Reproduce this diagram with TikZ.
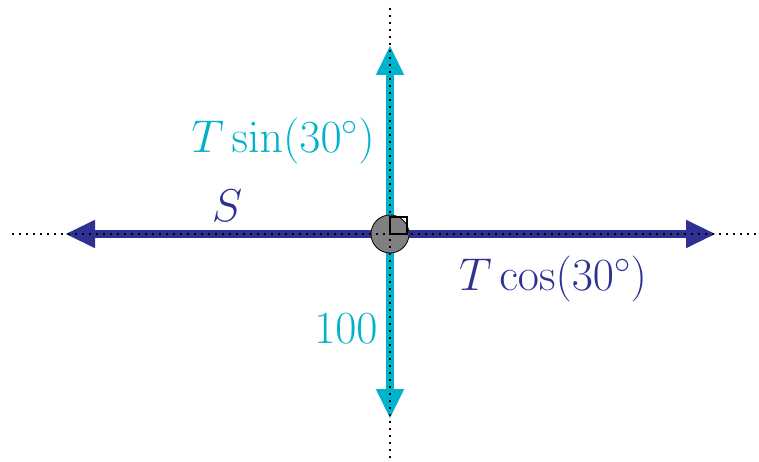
\RequirePackage{fix-cm}
\documentclass[tikz,border=0pt]{standalone}
\usetikzlibrary{arrows.meta}
\definecolor{fblue}{RGB}{46,49,146}
\definecolor{fcyan}{RGB}{0,178,204}
\tikzset{
  force/.style={line width=7.5pt, -{Triangle[length=30pt,width=26pt]}},
  guide/.style={black, line width=1.6pt, dash pattern=on 1.6pt off 5.4pt},
  lbl/.style={font=\fontsize{46}{49}\selectfont, inner sep=0pt},
}
\begin{document}
\begin{tikzpicture}[x=1pt,y=-1pt]
\useasboundingbox (0,0) rectangle (759,462);
\coordinate (O) at (390,234);
\coordinate (L) at (65,234);
\coordinate (R) at (716,234);
\coordinate (U) at (390,45);
\coordinate (D) at (390,419);
\coordinate (gl) at (12,234);
\coordinate (gr) at (759,234);
\coordinate (gu) at (390,8);
\coordinate (gd) at (390,462);
\draw[force, fcyan] (O) -- (U);
\draw[force, fcyan] (O) -- (D);
\draw[force, fblue] (O) -- (L);
\draw[force, fblue] (O) -- (R);
\node[circle, draw=black, line width=0.8pt, fill=gray, minimum size=38pt, inner sep=0pt] (c) at (O) {};
\draw[guide] (gl) -- (gr);
\draw[guide] (gu) -- (gd);
\draw[line width=1.2pt] (O) rectangle ++(17,-17);
\node[lbl, text=fcyan] (ts) at (283,141) {$T\sin(30^\circ)$};
\node[lbl, text=fblue] (s) at (227,206) {$S$};
\node[lbl, text=fblue] (tc) at (553,279) {$T\cos(30^\circ)$};
\node[lbl, text=fcyan] (h) at (346,329) {$100$};
\end{tikzpicture}
\end{document}
